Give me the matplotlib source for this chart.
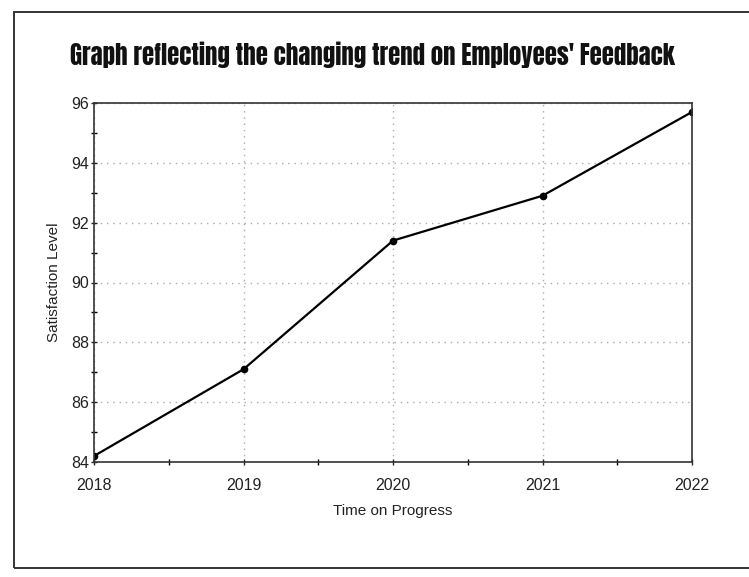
import matplotlib
matplotlib.use("Agg")
import matplotlib.pyplot as plt
from matplotlib.patches import Rectangle
from matplotlib.ticker import MultipleLocator

years = [2018, 2019, 2020, 2021, 2022]
satisfaction = [84.2, 87.1, 91.4, 92.9, 95.7]
title = "Graph reflecting the changing trend on Employees' Feedback"
xlabel = "Time on Progress"
ylabel = "Satisfaction Level"

plt.rcParams['font.family'] = ['Liberation Sans', 'DejaVu Sans']

W, H = 749, 577
fig = plt.figure(figsize=(W / 100, H / 100), dpi=100)
fig.patch.set_facecolor('white')

# outer frame
fig.patches.append(Rectangle((14 / W, 1 - 568 / H), (W + 10) / W, (568 - 12) / H,
                             transform=fig.transFigure, fill=False,
                             edgecolor='#333333', linewidth=1.4))

left, right, top, bottom = 94, 692, 103, 462
ax = fig.add_axes([left / W, 1 - bottom / H, (right - left) / W, (bottom - top) / H])

ax.plot(years, satisfaction, color='black', linewidth=1.6,
        marker='o', markersize=4.5, markerfacecolor='black')

ax.set_xlim(2018, 2022)
ax.set_ylim(84, 96)
ax.xaxis.set_major_locator(MultipleLocator(1))
ax.xaxis.set_minor_locator(MultipleLocator(0.5))
ax.yaxis.set_major_locator(MultipleLocator(2))
ax.yaxis.set_minor_locator(MultipleLocator(1))
ax.set_xticks(years)
ax.set_xticklabels([str(y) for y in years])

ax.grid(True, which='major', linestyle=(0, (1, 3.5)), color='#aaaaaa', linewidth=1.0)

ax.tick_params(axis='both', which='major', direction='inout', length=5, width=1,
               labelsize=11.5, colors='#222222')
ax.tick_params(axis='both', which='minor', direction='inout', length=4, width=1)
ax.tick_params(axis='x', which='major', pad=9)
ax.tick_params(axis='y', which='major', pad=1)

for s in ax.spines.values():
    s.set_color('#333333')
    s.set_linewidth(1.2)

ax.set_xlabel(xlabel, fontsize=11, color='#222222', labelpad=8)
ax.set_ylabel(ylabel, fontsize=11, color='#222222', labelpad=7)

t = fig.text(372 / W, 1 - 55 / H, title, ha='center', va='center',
             fontsize=18, fontweight='bold', color='#111111',
             family=['Anton', 'Oswald', 'Roboto Condensed', 'DejaVu Sans'])
fig.canvas.draw()
bb = t.get_window_extent()
t.set_fontsize(18 * 605.0 / bb.width)

fig.savefig('out.png', dpi=100)
